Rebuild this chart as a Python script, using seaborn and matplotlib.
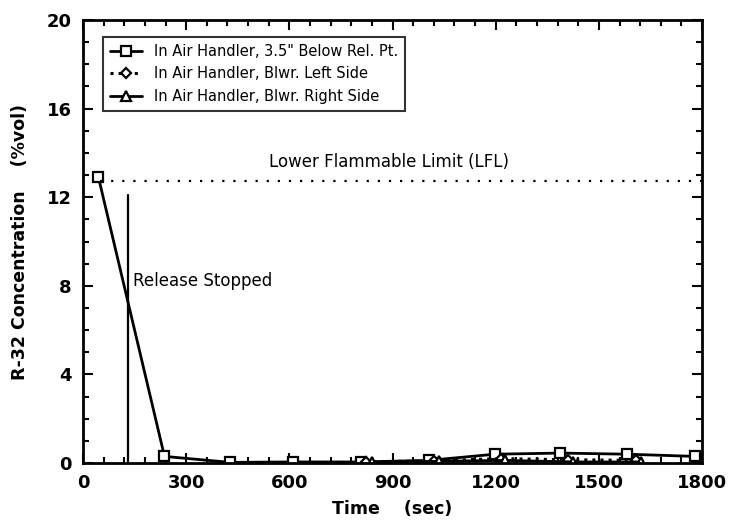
import numpy as np
import pandas as pd
import matplotlib
matplotlib.use("Agg")
import matplotlib.pyplot as plt
import seaborn as sns
from matplotlib.ticker import MultipleLocator

# data
below_time = [45, 237, 428, 612, 808, 1005, 1198, 1388, 1582, 1780]
below_conc = [12.9, 0.3, 0.03, 0.05, 0.05, 0.12, 0.4, 0.45, 0.4, 0.3]

left_time = [822, 1020, 1215, 1410, 1608]
left_conc = [0.05, 0.1, 0.2, 0.15, 0.12]

right_time = [840, 1035, 1228, 1425, 1622]
right_conc = [0.03, 0.08, 0.12, 0.05, 0.05]

labels = ['In Air Handler, 3.5" Below Rel. Pt.',
          "In Air Handler, Blwr. Left Side",
          "In Air Handler, Blwr. Right Side"]

lfl = 12.75
release_time = 130
release_top = 12.1


def build_frame():
    frames = []
    for name, t, c in zip(labels,
                          [below_time, left_time, right_time],
                          [below_conc, left_conc, right_conc]):
        frames.append(pd.DataFrame({"time": t, "conc": c, "series": name}))
    return pd.concat(frames, ignore_index=True)


def create_visualization(data, output_image_path):
    sns.set_style("ticks")
    plt.rcParams["font.family"] = ["DejaVu Sans"]
    plt.rcParams["text.color"] = "black"
    plt.rcParams["axes.labelcolor"] = "black"
    plt.rcParams["xtick.color"] = "black"
    plt.rcParams["ytick.color"] = "black"
    fig = plt.figure(figsize=(7.31, 5.25), dpi=100)
    ax = fig.add_axes([0.1135, 0.118, 0.847, 0.844])

    styles = [("s", "-"), ("D", ":"), ("^", "-")]
    sizes = [7, 5.5, 7]
    for (marker, ls), ms, name in zip(styles, sizes, labels):
        sub = data[data["series"] == name]
        sns.lineplot(data=sub, x="time", y="conc", ax=ax, color="black",
                     linestyle=ls, linewidth=2 if ls == "-" else 2.2,
                     marker=marker, markersize=ms, markerfacecolor="white",
                     markeredgecolor="black", markeredgewidth=1.6,
                     label=name, sort=False, estimator=None)

    ax.plot([50, 1800], [lfl, lfl], color="black", linestyle=(0, (1, 4)), linewidth=1.6)
    ax.text(890, 13.6, "Lower Flammable Limit (LFL)", ha="center", va="center",
            fontsize=12, color="black")
    ax.plot([release_time, release_time], [0, release_top], color="black", linewidth=1.6)
    ax.text(145, 8.2, "Release Stopped", ha="left", va="center", fontsize=12, color="black")

    ax.set_xlim(0, 1800)
    ax.set_ylim(0, 20)
    ax.xaxis.set_major_locator(MultipleLocator(300))
    ax.xaxis.set_minor_locator(MultipleLocator(60))
    ax.yaxis.set_major_locator(MultipleLocator(4))
    ax.yaxis.set_minor_locator(MultipleLocator(1))
    ax.tick_params(which="both", direction="in", top=True, right=True, width=1.5)
    ax.tick_params(which="major", length=7, labelsize=13, pad=8)
    ax.tick_params(which="minor", length=4)
    for lab in ax.get_xticklabels() + ax.get_yticklabels():
        lab.set_fontweight("bold")
    for sp in ax.spines.values():
        sp.set_linewidth(2)
        sp.set_color("black")

    ax.set_xlabel("Time    (sec)", fontsize=12.5, fontweight="bold", labelpad=6)
    ax.set_ylabel("R-32 Concentration    (%vol)", fontsize=12.5, fontweight="bold", labelpad=13)

    leg = ax.legend(loc="upper left", bbox_to_anchor=(0.032, 0.962), borderaxespad=0,
                    fontsize=10.5, frameon=True, fancybox=False, edgecolor="black",
                    handlelength=2.2, borderpad=0.5, labelspacing=0.5)
    leg.get_frame().set_linewidth(1.5)
    for t in leg.get_texts():
        t.set_color("black")

    fig.savefig(output_image_path, dpi=100)


def main():
    data = build_frame()
    create_visualization(data, "out.png")


if __name__ == "__main__":
    main()
